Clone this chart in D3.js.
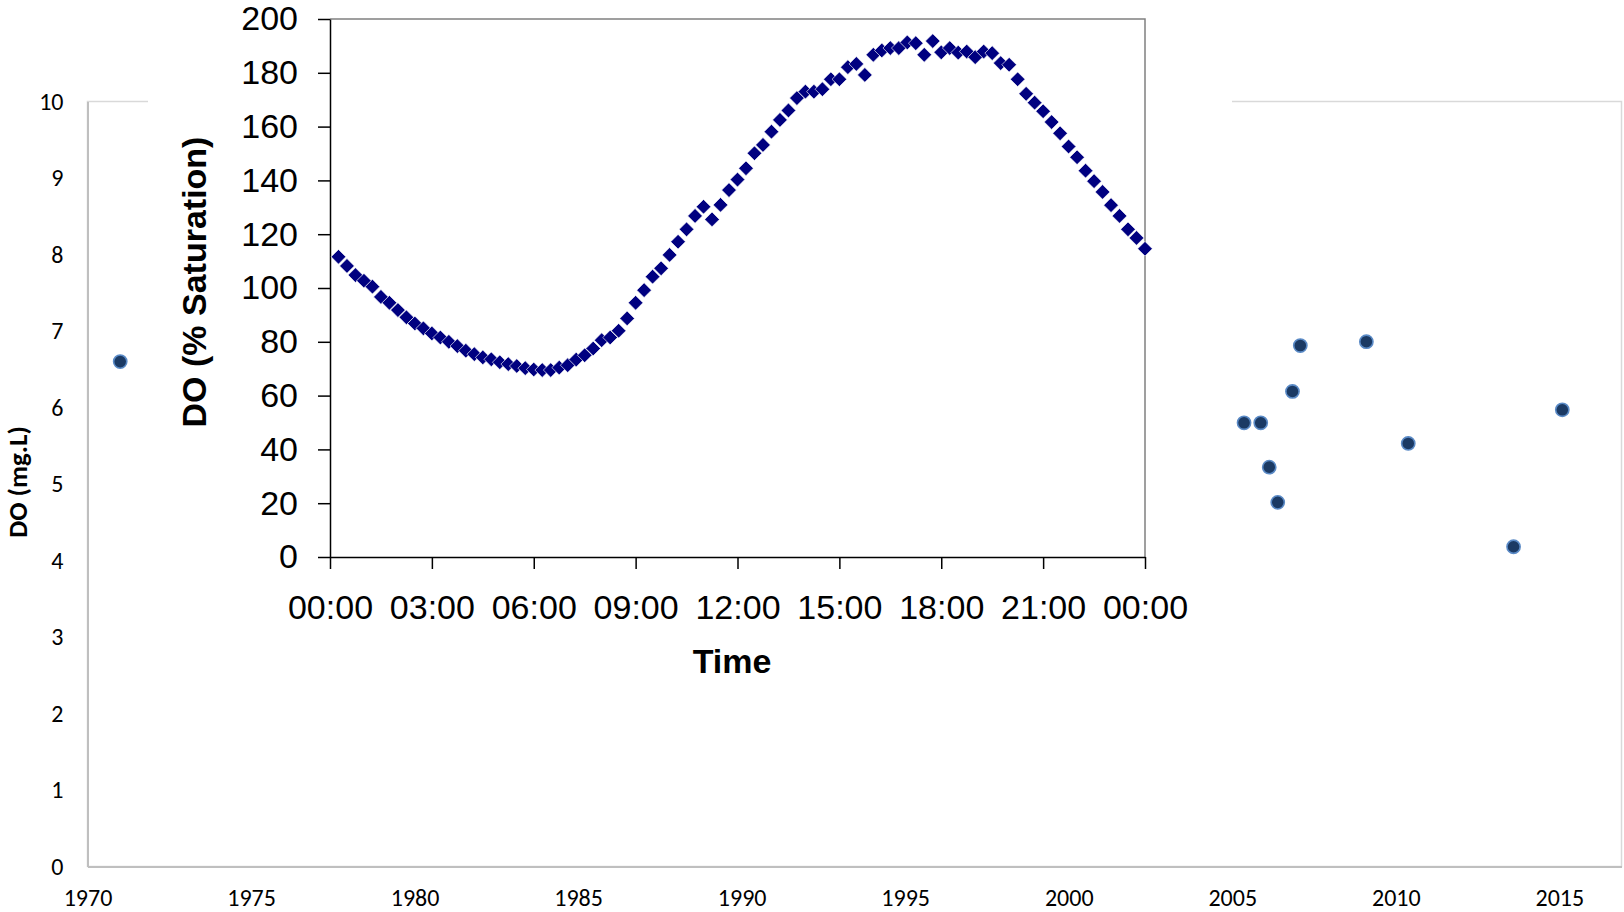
<!DOCTYPE html>
<html>
<head>
<meta charset="utf-8">
<script src="https://cdn.jsdelivr.net/npm/d3@7"></script>
<style>
  body { margin: 0; background: #fff; }
  svg { display: block; }
</style>
</head>
<body>
<div id="chart"></div>
<script>
// long-term DO samples (background chart)
const sampleYears = [1971.0, 2005.36, 2005.87, 2006.13, 2006.39, 2006.84, 2007.08, 2009.10, 2010.38, 2013.60, 2015.09];
const sampleDO = [6.60, 5.80, 5.80, 5.22, 4.76, 6.21, 6.81, 6.86, 5.53, 4.18, 5.97];
const yearTicks = [1970, 1975, 1980, 1985, 1990, 1995, 2000, 2005, 2010, 2015];
const doTicks = [0, 1, 2, 3, 4, 5, 6, 7, 8, 9, 10];

// diurnal % saturation (inset chart), 15 minute readings
const timeLabels = [
  "00:15", "00:30", "00:45", "01:00", "01:15", "01:30", "01:45", "02:00", "02:15", "02:30", "02:45", "03:00",
  "03:15", "03:30", "03:45", "04:00", "04:15", "04:30", "04:45", "05:00", "05:15", "05:30", "05:45", "06:00",
  "06:15", "06:30", "06:45", "07:00", "07:15", "07:30", "07:45", "08:00", "08:15", "08:30", "08:45", "09:00",
  "09:15", "09:30", "09:45", "10:00", "10:15", "10:30", "10:45", "11:00", "11:15", "11:30", "11:45", "12:00",
  "12:15", "12:30", "12:45", "13:00", "13:15", "13:30", "13:45", "14:00", "14:15", "14:30", "14:45", "15:00",
  "15:15", "15:30", "15:45", "16:00", "16:15", "16:30", "16:45", "17:00", "17:15", "17:30", "17:45", "18:00",
  "18:15", "18:30", "18:45", "19:00", "19:15", "19:30", "19:45", "20:00", "20:15", "20:30", "20:45", "21:00",
  "21:15", "21:30", "21:45", "22:00", "22:15", "22:30", "22:45", "23:00", "23:15", "23:30", "23:45", "24:00"
];
const satValues = [
  111.6, 108.2, 104.8, 102.7, 100.5, 96.7, 94.5, 91.8, 89.1, 86.8, 85.0, 83.1,
  81.6, 80.0, 78.4, 76.7, 75.4, 74.2, 73.5, 72.4, 71.7, 71.0, 70.2, 69.7,
  69.5, 69.5, 70.4, 71.3, 73.4, 75.0, 77.5, 80.6, 81.6, 84.1, 88.7, 94.5,
  99.2, 104.2, 107.3, 112.3, 117.2, 121.8, 126.8, 130.2, 125.5, 130.9, 136.4, 140.3,
  144.5, 150.1, 153.2, 158.1, 162.5, 166.0, 170.6, 173.0, 173.0, 173.9, 177.6, 177.6,
  182.1, 183.3, 179.2, 186.7, 188.3, 189.2, 189.2, 191.3, 191.0, 186.7, 191.8, 187.6,
  189.2, 187.5, 187.9, 185.8, 187.9, 187.3, 183.6, 183.0, 177.6, 172.2, 168.9, 165.7,
  161.7, 157.5, 152.6, 148.6, 143.6, 139.7, 135.7, 130.8, 126.8, 121.8, 118.6, 114.6
];
const hourTicks = [0, 3, 6, 9, 12, 15, 18, 21, 24];
const satTicks = [0, 20, 40, 60, 80, 100, 120, 140, 160, 180, 200];

const W = 1624, H = 912;
const svg = d3.select("#chart").append("svg").attr("width", W).attr("height", H);

// ---- background chart ----
const bg = { left: 87.5, right: 1621.5, top: 101.5, bottom: 866.5 };
const xYear = d3.scaleLinear().domain([1970, 2016.9]).range([bg.left, bg.right]);
const yDO = d3.scaleLinear().domain([0, 10]).range([bg.bottom, bg.top]);
const bgFont = "Calibri, Carlito, Lato, sans-serif";

svg.append("rect")
  .attr("x", bg.left).attr("y", bg.top)
  .attr("width", bg.right - bg.left).attr("height", bg.bottom - bg.top)
  .attr("fill", "none").attr("stroke", "#d9d9d9").attr("stroke-width", 1.5);

const bgY = svg.append("g")
  .attr("transform", `translate(${bg.left},0)`)
  .call(d3.axisLeft(yDO).tickValues(doTicks).tickSize(0).tickPadding(24));
const bgX = svg.append("g")
  .attr("transform", `translate(0,${bg.bottom})`)
  .call(d3.axisBottom(xYear).tickValues(yearTicks).tickFormat(d3.format("d")).tickSize(0).tickPadding(24));

[bgY, bgX].forEach(g => {
  g.select(".domain").attr("stroke", "#bfbfbf").attr("stroke-width", 2);
  g.selectAll("text").attr("font-family", bgFont).attr("font-size", 24).attr("fill", "#000");
});
bgX.selectAll("text").attr("dy", "0.35em").attr("y", 31);

svg.append("text")
  .attr("transform", `translate(26.5,${(bg.top + bg.bottom) / 2 - 2}) rotate(-90)`)
  .attr("text-anchor", "middle")
  .attr("font-family", bgFont).attr("font-weight", "bold").attr("font-size", 27)
  .text("DO (mg.L)");

svg.append("g").selectAll("circle")
  .data(sampleYears.map((y, i) => ({ year: y, value: sampleDO[i] })))
  .join("circle")
  .attr("cx", d => xYear(d.year))
  .attr("cy", d => yDO(d.value))
  .attr("r", 6.6)
  .attr("fill", "#1b3a64")
  .attr("stroke", "#5a8ac6")
  .attr("stroke-width", 1.6);

// ---- inset chart ----
const inset = { left: 330, right: 1145, top: 19, bottom: 557 };
const xTime = d3.scaleLinear().domain([0, 24]).range([inset.left, inset.right]);
const ySat = d3.scaleLinear().domain([0, 200]).range([inset.bottom, inset.top]);
const insetFont = "Arial, 'Liberation Sans', sans-serif";

const ig = svg.append("g");
ig.append("rect")
  .attr("x", 148).attr("y", 0).attr("width", 1084).attr("height", 690)
  .attr("fill", "#fff");

ig.append("path")
  .attr("d", `M${inset.left},${inset.top}H${inset.right}V${inset.bottom}`)
  .attr("fill", "none").attr("stroke", "#808080").attr("stroke-width", 1.5);

const fmtHour = h => String(h % 24).padStart(2, "0") + ":00";
const insetX = ig.append("g")
  .attr("transform", `translate(0,${inset.bottom})`)
  .call(d3.axisBottom(xTime).tickValues(hourTicks).tickFormat(fmtHour).tickSizeInner(12).tickSizeOuter(0).tickPadding(26));
const insetY = ig.append("g")
  .attr("transform", `translate(${inset.left},0)`)
  .call(d3.axisLeft(ySat).tickValues(satTicks).tickSizeInner(12).tickSizeOuter(0).tickPadding(20));

[insetX, insetY].forEach(g => {
  g.select(".domain").attr("stroke", "#000").attr("stroke-width", 1.5);
  g.selectAll(".tick line").attr("stroke", "#000").attr("stroke-width", 1.5);
  g.selectAll("text").attr("font-family", insetFont).attr("font-size", 34).attr("fill", "#000");
});

ig.append("text")
  .attr("transform", `translate(205.5,282) rotate(-90)`)
  .attr("text-anchor", "middle")
  .attr("font-family", insetFont).attr("font-weight", "bold").attr("font-size", 34)
  .text("DO (% Saturation)");

ig.append("text")
  .attr("x", 732).attr("y", 673)
  .attr("text-anchor", "middle")
  .attr("font-family", insetFont).attr("font-weight", "bold").attr("font-size", 34)
  .text("Time");

const parseTime = s => { const [h, m] = s.split(":").map(Number); return h + m / 60; };
const diamond = d3.symbol().type(d3.symbolSquare).size(108);

ig.append("g").selectAll("path")
  .data(timeLabels.map((t, i) => ({ hour: parseTime(t), value: satValues[i] })))
  .join("path")
  .attr("d", diamond)
  .attr("transform", d => `translate(${xTime(d.hour)},${ySat(d.value)}) rotate(45)`)
  .attr("fill", "#000080")
  .attr("stroke", "#fff")
  .attr("stroke-width", 0.6);
</script>
</body>
</html>
